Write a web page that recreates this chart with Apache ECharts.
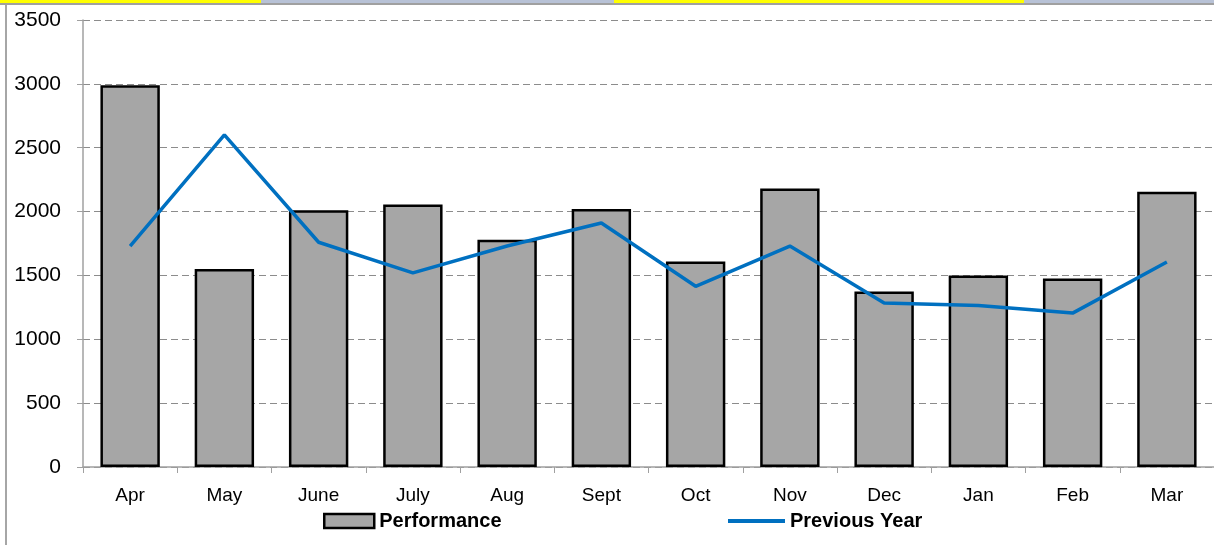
<!DOCTYPE html>
<html>
<head>
<meta charset="utf-8">
<script src="https://cdn.jsdelivr.net/npm/echarts@6/dist/echarts.min.js"></script>
<style>
html,body{margin:0;padding:0;background:#fff;}
#chart{width:1214px;height:545px;}
</style>
</head>
<body>
<div id="chart"></div>
<script>
const categories = ['Apr','May','June','July','Aug','Sept','Oct','Nov','Dec','Jan','Feb','Mar'];
const performance = [2990, 1550, 2010, 2055, 1780, 2020, 1610, 2180, 1375, 1500, 1475, 2155];
const previousYear = [1730, 2600, 1760, 1520, 1730, 1910, 1415, 1730, 1285, 1265, 1205, 1605];
const yTicks = {min: 0, max: 3500, interval: 500};

const FONT = '"Liberation Sans", Arial, sans-serif';
const chart = echarts.init(document.getElementById('chart'), null, {renderer: 'canvas'});
chart.setOption({
  animation: false,
  backgroundColor: '#ffffff',
  textStyle: {fontFamily: FONT},
  grid: {left: 83, right: -2, top: 20, bottom: 78, containLabel: false},
  legend: [
    {
      data: [{name: 'Performance', icon: 'rect'}],
      left: 318, top: 506,
      itemWidth: 50, itemHeight: 14, itemGap: 6,
      textStyle: {fontFamily: FONT, fontSize: 20, fontWeight: 'bold', color: '#000'},
      itemStyle: {borderColor: '#000', borderWidth: 2.5}
    },
    {
      data: [{name: 'Previous Year', icon: 'rect'}],
      left: 723, top: 506,
      itemWidth: 57, itemHeight: 4, itemGap: 6,
      textStyle: {fontFamily: FONT, fontSize: 20, fontWeight: 'bold', color: '#000'}
    }
  ],
  xAxis: {
    type: 'category',
    data: categories,
    boundaryGap: true,
    axisLine: {show: true, lineStyle: {color: '#a0a0a0', width: 1.5}},
    axisTick: {show: true, length: 6, lineStyle: {color: '#a0a0a0'}},
    axisLabel: {color: '#000', fontSize: 19, fontFamily: FONT, margin: 19},
    splitLine: {show: false}
  },
  yAxis: {
    type: 'value',
    min: yTicks.min, max: yTicks.max, interval: yTicks.interval,
    axisLine: {show: true, lineStyle: {color: '#a0a0a0', width: 1.5}},
    axisTick: {show: true, length: 6, lineStyle: {color: '#a0a0a0'}},
    axisLabel: {color: '#000', fontSize: 21, fontFamily: FONT, margin: 22, formatter: v => String(v)},
    splitLine: {show: true, lineStyle: {color: '#8c8c8c', type: [7, 4], width: 1.2}}
  },
  series: [
    {
      name: 'Performance',
      type: 'bar',
      data: performance,
      barWidth: '63%',
      itemStyle: {color: '#a6a6a6', borderColor: '#000', borderWidth: 2.5},
      z: 2
    },
    {
      name: 'Previous Year',
      type: 'line',
      data: previousYear,
      symbol: 'none',
      lineStyle: {color: '#0070c0', width: 3.5},
      itemStyle: {color: '#0070c0'},
      z: 3
    }
  ],
  graphic: [
    {type: 'rect', shape: {x: 0, y: 0, width: 261, height: 3}, style: {fill: '#ffff00'}, silent: true},
    {type: 'rect', shape: {x: 261, y: 0, width: 353, height: 3}, style: {fill: '#b8c2d6'}, silent: true},
    {type: 'rect', shape: {x: 614, y: 0, width: 410, height: 3}, style: {fill: '#ffff00'}, silent: true},
    {type: 'rect', shape: {x: 1024, y: 0, width: 190, height: 3}, style: {fill: '#b8c2d6'}, silent: true},
    {type: 'rect', shape: {x: 0, y: 3, width: 1214, height: 2}, style: {fill: '#a0a0a0'}, silent: true},
    {type: 'rect', shape: {x: 5, y: 5, width: 2, height: 540}, style: {fill: '#a6a6a6'}, silent: true}
  ]
});
</script>
</body>
</html>
